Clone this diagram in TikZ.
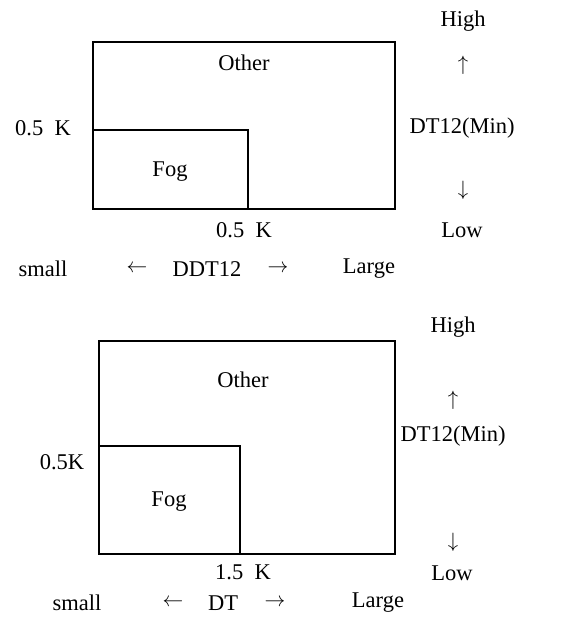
\documentclass[tikz,border=0pt]{standalone}
\usepackage{fontspec}
\setmainfont{Liberation Serif}
\begin{document}
\begin{tikzpicture}[x=1pt,y=-1pt,
  box/.style={draw=black,line width=2.6pt},
  lbl/.style={font=\fontsize{22.5}{27}\selectfont,inner sep=0pt,anchor=center},
  arr/.style={font=\fontsize{20}{24}\selectfont,inner sep=0pt}]
\useasboundingbox (0,0) rectangle (560,617);
% upper chart
\draw[box] (93,42) rectangle (395,209);
\draw[box] (93,130) -| (248,209);
\node[lbl] (o1) at (244,63) {Other};
\node[lbl] (f1) at (170,172) {Fog};
\node[lbl] (ly1) at (43,128) {0.5\ \ K};
\node[lbl] (lx1) at (244,230) {0.5\ \ K};
\node[lbl] (h1) at (463,21) {High};
\node[arr] (u1) at (463,65) {$\uparrow$};
\node[lbl] (d1) at (462,128) {DT12(Min)};
\node[arr] (w1) at (463,190) {$\downarrow$};
\node[lbl] (lo1) at (462,230) {Low};
\node[lbl] (s1) at (43,269) {small};
\node[arr] (la1) at (137,269) {$\leftarrow$};
\node[lbl] (x1) at (207,269) {DDT12};
\node[arr] (ra1) at (278,269) {$\rightarrow$};
\node[lbl] (g1) at (369,269) {Large};
% lower chart
\draw[box] (99,341) rectangle (395,554);
\draw[box] (99,446) -| (240,554);
\node[lbl] (o2) at (243,380) {Other};
\node[lbl] (f2) at (169,502) {Fog};
\node[lbl] (ly2) at (62,462) {0.5K};
\node[lbl] (lx2) at (243,572) {1.5\ \ K};
\node[lbl] (h2) at (453,327) {High};
\node[arr] (u2) at (453,400) {$\uparrow$};
\node[lbl] (d2) at (453,436) {DT12(Min)};
\node[arr] (w2) at (453,542) {$\downarrow$};
\node[lbl] (lo2) at (452,573) {Low};
\node[lbl] (s2) at (77,603) {small};
\node[arr] (la2) at (173,603) {$\leftarrow$};
\node[lbl] (x2) at (223,603) {DT};
\node[arr] (ra2) at (275,603) {$\rightarrow$};
\node[lbl] (g2) at (378,603) {Large};
\end{tikzpicture}
\end{document}
